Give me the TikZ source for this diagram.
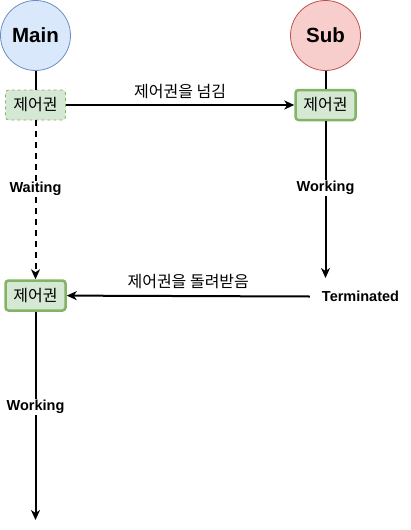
\documentclass[tikz,border=0pt]{standalone}
\usepackage{fontspec}
\setmainfont{Liberation Sans}
\newfontfamily\kr{Noto Sans CJK KR}
\usetikzlibrary{arrows.meta}
\definecolor{mainfill}{HTML}{DAE8FC}
\definecolor{mainstroke}{HTML}{6C8EBF}
\definecolor{subfill}{HTML}{F8CECC}
\definecolor{substroke}{HTML}{B85450}
\definecolor{boxfill}{HTML}{D5E8D4}
\definecolor{boxstroke}{HTML}{82B366}
\begin{document}
\begin{tikzpicture}[x=1pt,y=-1pt,
  proc/.style={circle,draw,line width=0.8pt,minimum size=70pt,inner sep=0pt,font=\fontsize{20.5}{24}\selectfont\bfseries},
  ctrl/.style={draw=boxstroke,fill=boxfill,rounded corners=3pt,minimum width=60pt,minimum height=30pt,inner sep=0pt,font=\kr\fontsize{16}{19}\selectfont},
  lbl/.style={fill=white,inner sep=1pt,font=\fontsize{14.5}{17}\selectfont\bfseries},
  klbl/.style={inner sep=1pt,font=\kr\fontsize{16}{19}\selectfont},
  ln/.style={line width=2pt},
  arr/.style={ln,-{Stealth[length=10pt,width=9pt,inset=3pt]}}]
\useasboundingbox (0,0) rectangle (411,530);
\node[proc,fill=mainfill,draw=mainstroke] (main) at (35.5,35.5) {Main};
\node[proc,fill=subfill,draw=substroke] (sub) at (325.5,35.5) {Sub};
\node[ctrl,dashed,line width=0.8pt] (c1) at (35.5,105) {제어권};
\node[ctrl,line width=2.5pt] (c2) at (325.5,105) {제어권};
\node[ctrl,line width=2.5pt] (c3) at (35.5,295.5) {제어권};
\node[inner sep=0pt,font=\fontsize{14.5}{17}\selectfont\bfseries] (term) at (360.5,296.5) {Terminated};
\coordinate (subend) at (325.5,278);
\coordinate (mainend) at (35.5,520);
\draw[ln] (main) -- (c1);
\draw[ln] (sub) -- (c2);
\draw[arr] (c1) -- node[klbl,above=4pt] {제어권을 넘김} (c2);
\draw[arr] (c2) -- (subend);
\node[lbl] at (325.5,188) {Working};
\draw[arr,dash pattern=on 6pt off 5pt] (c1) -- (c3);
\node[lbl] at (35.5,189) {Waiting};
\draw[arr] (term.west) ++(-12pt,0) coordinate (tw) (tw) -- node[klbl,above=5pt] {제어권을 돌려받음} (c3);
\draw[arr] (c3) -- (mainend);
\node[lbl] at (35.5,407) {Working};
\end{tikzpicture}
\end{document}
